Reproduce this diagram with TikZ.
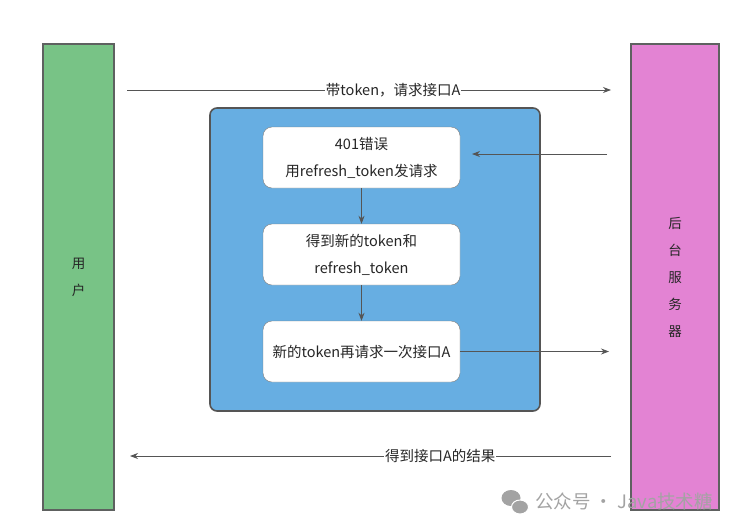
\documentclass[tikz,border=0pt]{standalone}
\usepackage{fontspec}
\setmainfont{Noto Sans CJK SC}
\usetikzlibrary{arrows.meta}
\definecolor{userG}{HTML}{78C386}
\definecolor{serverP}{HTML}{E383D3}
\definecolor{refreshB}{HTML}{67AEE2}
\definecolor{edgeG}{HTML}{5E6160}
\definecolor{boxE}{HTML}{7A7A7A}
\definecolor{lineG}{HTML}{555555}
\definecolor{wmG}{HTML}{A3A3A3}
\begin{document}
\begin{tikzpicture}[x=1pt,y=-1pt,
    pillar/.style={draw=edgeG,line width=2pt,minimum width=71pt,minimum height=466pt,
      inner sep=0pt,align=center,text=black!85,font=\fontsize{13.5}{27}\selectfont},
    stepbox/.style={draw=boxE,fill=white,rounded corners=9pt,minimum width=197pt,
      minimum height=61pt,align=center,text=black!85,font=\fontsize{14.5}{27}\selectfont},
    arr/.style={draw=lineG,line width=0.8pt,-{Stealth[length=8pt,width=6pt]}},
    lbl/.style={fill=white,inner sep=1pt,text=black!85,font=\fontsize{14.5}{16}\selectfont}]
    \useasboundingbox (0,0) rectangle (749,531);
    % the two sides
    \node[pillar,fill=userG] (user) at (78.5,277) {用\\户};
    \node[pillar,fill=serverP,minimum width=88pt] (server) at (675,277) {后\\台\\服\\务\\器};
    % refresh block
    \node[draw=lineG,line width=1.6pt,fill=refreshB,rounded corners=7pt,
      minimum width=330pt,minimum height=303pt] (refresh) at (375,259.5) {};
    \node[stepbox] (err) at (361.5,157.5) {401错误\\用refresh\_token发请求};
    \node[stepbox] (renew) at (361.5,254.5) {得到新的token和\\refresh\_token};
    \node[stepbox] (retry) at (361.5,351.5) {新的token再请求一次接口A};
    % free ends of the messages
    \coordinate (topL) at (127,90);
    \coordinate (topR) at (611,90);
    \coordinate (retS) at (607,154);
    \coordinate (retE) at (472,154);
    \coordinate (reqR) at (609,351.5);
    \coordinate (botR) at (611,456);
    \coordinate (botL) at (130,456);
    \draw[arr] (topL) -- node[lbl,pos=0.55] {带token，请求接口A} (topR);
    \draw[arr] (retS) -- (retE);
    \draw[arr] (err.south) -- (renew.north);
    \draw[arr] (renew.south) -- (retry.north);
    \draw[arr] (retry.east) -- (reqR);
    \draw[arr] (botR) -- node[lbl,pos=0.355] {得到接口A的结果} (botL);
    % watermark
    \fill[wmG] (511,498) ellipse (9.5 and 8);
    \fill[wmG,draw=white,line width=1pt] (520,507) ellipse (8.5 and 7);
    \node[anchor=west,inner sep=0pt,text=wmG,font=\fontsize{18.5}{18}\selectfont] (wm) at (535,501) {公众号 · Java技术糖};
\end{tikzpicture}
\end{document}
